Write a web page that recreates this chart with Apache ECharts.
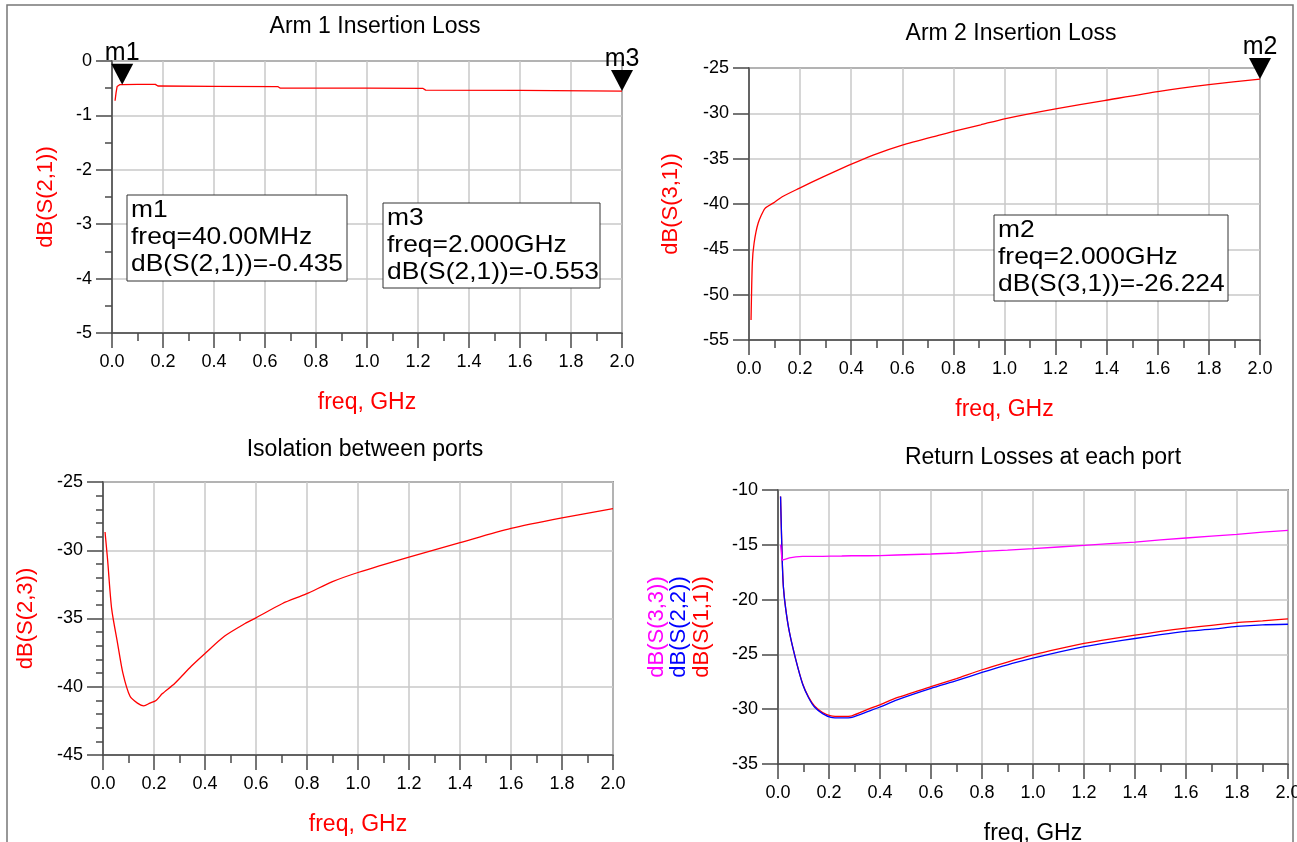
<!DOCTYPE html>
<html><head><meta charset="utf-8">
<script src="https://cdn.jsdelivr.net/npm/echarts@6/dist/echarts.min.js"></script>
<style>html,body{margin:0;padding:0;background:#fff;overflow:hidden}#c{width:1297px;height:842px}</style>
</head><body><div id="c"></div>
<script>
const FONT = '"Liberation Sans", Arial, sans-serif';

// ---- Arm 1 Insertion Loss: dB(S(2,1)) ----
const freqArm1 = [0.012, 0.016, 0.02, 0.03, 0.04, 0.1, 0.17, 0.18, 0.4, 0.65, 0.66, 1.0, 1.22, 1.23, 1.6, 2.0];
const s21 = [-0.73, -0.58, -0.47, -0.435, -0.435, -0.43, -0.43, -0.46, -0.465, -0.47, -0.50, -0.50, -0.505, -0.535, -0.54, -0.553];

// ---- Arm 2 Insertion Loss: dB(S(3,1)) ----
const freqArm2 = [0.008, 0.013, 0.02, 0.036, 0.062, 0.1, 0.13, 0.194, 0.29, 0.389, 0.486, 0.6, 0.745, 0.8, 0.907, 1.0, 1.2, 1.39, 1.6, 1.8, 2.0];
const s31 = [-52.8, -46.5, -44.3, -42.1, -40.5, -39.8, -39.2, -38.3, -37.0, -35.75, -34.6, -33.5, -32.4, -32.0, -31.26, -30.6, -29.5, -28.6, -27.6, -26.84, -26.224];

// ---- Isolation between ports: dB(S(2,3)) ----
const freqIso = [0.008, 0.018, 0.034, 0.057, 0.078, 0.106, 0.135, 0.16, 0.184, 0.208, 0.233, 0.281, 0.346, 0.4, 0.476, 0.557, 0.6, 0.704, 0.797, 0.9, 1.0, 1.2, 1.4, 1.6, 1.8, 2.0];
const s23 = [-28.66, -30.7, -34.3, -36.8, -39.0, -40.7, -41.2, -41.4, -41.2, -41.0, -40.5, -39.76, -38.5, -37.56, -36.3, -35.37, -34.95, -33.9, -33.2, -32.3, -31.63, -30.5, -29.44, -28.4, -27.63, -26.95];

// ---- Return Losses at each port ----
const freqRL = [0.01, 0.016, 0.021, 0.03, 0.045, 0.07, 0.097, 0.12, 0.143, 0.175, 0.208, 0.25, 0.29, 0.354, 0.4, 0.467, 0.6, 0.7, 0.8, 0.9, 1.0, 1.1, 1.2, 1.3, 1.4, 1.5, 1.6, 1.7, 1.8, 1.9, 2.0];
const s11 = [-10.6, -16.0, -18.8, -20.8, -23.0, -25.5, -27.7, -28.9, -29.7, -30.3, -30.6, -30.65, -30.6, -30.0, -29.6, -28.95, -27.95, -27.2, -26.4, -25.7, -25.05, -24.5, -24.0, -23.6, -23.25, -22.9, -22.6, -22.35, -22.1, -21.95, -21.75];
const s22 = [-10.6, -16.0, -18.8, -20.8, -23.0, -25.5, -27.75, -28.95, -29.8, -30.4, -30.75, -30.8, -30.75, -30.2, -29.8, -29.15, -28.1, -27.4, -26.65, -25.95, -25.35, -24.8, -24.3, -23.9, -23.55, -23.2, -22.9, -22.7, -22.45, -22.3, -22.25];
const s33 = [-15.0, -16.4, -16.35, -16.3, -16.2, -16.1, -16.05, -16.05, -16.05, -16.05, -16.03, -16.02, -16.0, -16.0, -15.98, -15.93, -15.84, -15.75, -15.6, -15.48, -15.35, -15.2, -15.05, -14.9, -14.75, -14.55, -14.38, -14.2, -14.05, -13.85, -13.68];

// ---- Markers ----
const markerNames = ['m1', 'm3', 'm2'];
const markerFreq = [0.04, 2.0, 2.0];
const markerVal = [-0.435, -0.553, -26.224];
const markerFreqText = ['40.00MHz', '2.000GHz', '2.000GHz'];
const markerMeas = ['dB(S(2,1))', 'dB(S(2,1))', 'dB(S(3,1))'];
const markerValText = ['-0.435', '-0.553', '-26.224'];

const titles = ['Arm 1 Insertion Loss', 'Arm 2 Insertion Loss', 'Isolation between ports', 'Return Losses at each port'];

const RED = '#ff0000', BLUE = '#0000ff', MAG = '#ff00ff';
const AX = '#4a4a4a', GRIDC = '#c8c8c8';

const grids = [
  {left: 112, top: 61, width: 510, height: 272},
  {left: 749, top: 68, width: 511, height: 272},
  {left: 103, top: 482, width: 510, height: 273},
  {left: 778, top: 490, width: 510, height: 274}
].map(g => Object.assign(g, {show: true, borderColor: AX, borderWidth: 1.5, containLabel: false, outerBoundsMode: 'none'}));

function xAx(gi, nameColor) {
  return {
    type: 'value', gridIndex: gi, min: 0, max: 2, interval: 0.2,
    name: 'freq, GHz', nameLocation: 'middle', nameGap: 58, nameMoveOverlap: false,
    nameTextStyle: {color: nameColor, fontSize: 23, fontFamily: FONT},
    axisLine: {show: true, onZero: false, lineStyle: {color: AX, width: 1.5}},
    axisTick: {show: true, length: 15, lineStyle: {color: AX, width: 1.5}},
    minorTick: {show: true, splitNumber: 2, length: 8, lineStyle: {color: AX, width: 1.5}},
    axisLabel: {margin: 20, fontSize: 18, color: '#000', fontFamily: FONT, formatter: v => v.toFixed(1), hideOverlap: false},
    splitLine: {show: true, lineStyle: {color: GRIDC, width: 1.5}},
    minorSplitLine: {show: false}
  };
}
function yAx(gi, min, max, interval, minorN, name, nameGap, nameStyle) {
  return {
    type: 'value', gridIndex: gi, min: min, max: max, interval: interval,
    name: name, nameLocation: 'middle', nameRotate: 90, nameGap: nameGap, nameMoveOverlap: false,
    nameTextStyle: nameStyle,
    axisLine: {show: true, onZero: false, lineStyle: {color: AX, width: 1.5}},
    axisTick: {show: true, length: 16, lineStyle: {color: AX, width: 1.5}},
    minorTick: {show: minorN > 0, splitNumber: minorN || 2, length: 7, lineStyle: {color: AX, width: 1.5}},
    axisLabel: {margin: 20, fontSize: 18, color: '#000', fontFamily: FONT},
    splitLine: {show: true, lineStyle: {color: GRIDC, width: 1.5}},
    minorSplitLine: {show: false}
  };
}
const redName = {color: RED, fontSize: 22, fontFamily: FONT};

function pairs(xs, ys) { return xs.map((x, i) => [x, ys[i]]); }
function lineSeries(gi, xs, ys, color, smooth) {
  return {type: 'line', xAxisIndex: gi, yAxisIndex: gi, data: pairs(xs, ys), showSymbol: false, symbol: 'none',
    smooth: smooth || false,
    lineStyle: {color: color, width: 1.3}, silent: true, animation: false, clip: false, z: 5};
}
function markerSeries(gi, idx) {
  return {type: 'scatter', xAxisIndex: gi, yAxisIndex: gi, data: [[markerFreq[idx], markerVal[idx]]],
    symbol: 'path://M0,0 L10,0 L5,10 Z', symbolSize: [22, 21], symbolOffset: [0, -10.5],
    itemStyle: {color: '#000', opacity: 1}, silent: true, animation: false, clip: false, z: 10,
    label: {show: true, position: 'top', distance: -2, formatter: markerNames[idx], fontSize: 25, color: '#000', opacity: 1, fontFamily: FONT}};
}

const boxes = [
  {idx: 0, x: 127, y: 195, w: 220, h: 86},
  {idx: 1, x: 383, y: 203, w: 217, h: 85},
  {idx: 2, x: 994, y: 215, w: 234, h: 86}
];
const graphic = [];
graphic.push({type: 'rect', z: 0, shape: {x: 7, y: 5, width: 1286, height: 860}, style: {fill: 'none', stroke: '#777', lineWidth: 1.5}, silent: true});
boxes.forEach(b => {
  const i = b.idx;
  graphic.push({type: 'rect', z: 100, shape: {x: b.x, y: b.y, width: b.w, height: b.h}, style: {fill: '#fff', stroke: '#333', lineWidth: 1}, silent: true});
  graphic.push({type: 'text', z: 101, x: b.x + 4, y: b.y + 2, scaleX: 1.1, style: {
    text: markerNames[i] + '\nfreq=' + markerFreqText[i] + '\n' + markerMeas[i] + '=' + markerValText[i],
    fontSize: 24, fontFamily: FONT, fill: '#000', lineHeight: 27}, silent: true});
});
const titlePos = [[375, 27], [1011, 34], [365, 450], [1043, 458]];
titles.forEach((t, i) => graphic.push({type: 'text', z: 50, x: titlePos[i][0], y: titlePos[i][1], style: {
  text: t, fontSize: 23, fontFamily: FONT, fill: '#000', align: 'center', verticalAlign: 'middle'}, silent: true}));

const option = {
  backgroundColor: '#fff',
  animation: false,
  grid: grids,
  xAxis: [xAx(0, RED), xAx(1, RED), xAx(2, RED), xAx(3, '#000')],
  yAxis: [
    yAx(0, -5, 0, 1, 2, 'dB(S(2,1))', 55, redName),
    yAx(1, -55, -25, 5, 0, 'dB(S(3,1))', 67, redName),
    yAx(2, -45, -25, 5, 5, 'dB(S(2,3))', 66, redName),
    yAx(3, -35, -10, 5, 0, '{a|dB(S(3,3))}\n{b|dB(S(2,2))}\n{c|dB(S(1,1))}', 65, {
      fontSize: 22, fontFamily: FONT, lineHeight: 22.5,
      rich: {
        a: {color: MAG, fontSize: 22, fontFamily: FONT, lineHeight: 22.5},
        b: {color: BLUE, fontSize: 22, fontFamily: FONT, lineHeight: 22.5},
        c: {color: RED, fontSize: 22, fontFamily: FONT, lineHeight: 22.5}
      }})
  ],
  series: [
    lineSeries(0, freqArm1, s21, RED),
    lineSeries(1, freqArm2, s31, RED, 0.2),
    lineSeries(2, freqIso, s23, RED, 0.25),
    lineSeries(3, freqRL, s11, RED, 0.2),
    lineSeries(3, freqRL, s22, BLUE, 0.2),
    lineSeries(3, freqRL, s33, MAG),
    markerSeries(0, 0),
    markerSeries(0, 1),
    markerSeries(1, 2)
  ],
  graphic: graphic
};
const chart = echarts.init(document.getElementById('c'), null, {renderer: 'canvas', width: 1297, height: 842});
chart.setOption(option);
</script>
</body></html>
